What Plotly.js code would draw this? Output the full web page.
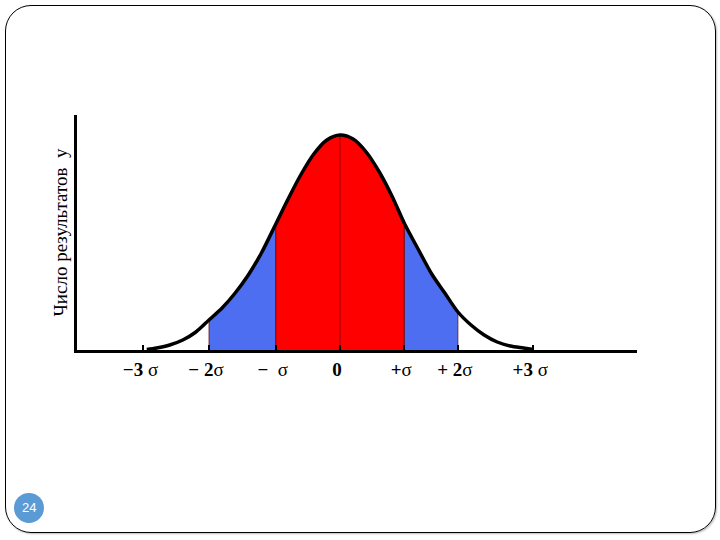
<!DOCTYPE html>
<html>
<head>
<meta charset="utf-8">
<script src="https://cdn.plot.ly/plotly-3.0.1.min.js"></script>
<style>
  html, body { margin: 0; padding: 0; background: #ffffff; }
  #slide { position: absolute; left: 5px; top: 5px; width: 709px; height: 526px;
           border: 1.5px solid #000; border-radius: 26px; box-shadow: 1px 1px 2px #bbb; }
  #chart { position: absolute; left: 0; top: 0; width: 720px; height: 540px; }
</style>
</head>
<body>
<div id="slide"></div>
<div id="chart"></div>
<script>
// Curve (x in sigma units, y in arbitrary height units)
var curveX = [-2.95, -2.8, -2.6, -2.4, -2.2, -2.0, -1.8, -1.6, -1.4, -1.2, -0.98, -0.8, -0.6, -0.4, -0.2, 0,
              0.2, 0.4, 0.6, 0.8, 0.98, 1.2, 1.4, 1.6, 1.8, 2.0, 2.2, 2.4, 2.6, 2.8, 2.95];
var curveY = [0.5, 2, 5, 10, 18, 30, 42, 57, 75, 97, 126, 150, 175, 196, 210, 215,
              211, 198, 178, 153, 127, 100, 76, 57, 38, 25, 15, 8, 4, 2, 0.5];

// Band boundaries (sigma units)
var blueBands = [[-2.0, -0.98], [0.98, 1.8]];
var redBand = [-0.98, 0.98];

// Axis tick labels
var tickVals = [-3, -2, -0.98, 0, 0.98, 1.8, 2.95];
var tickText = ['<b>−3</b> σ', '<b>− 2</b>σ', '<b>−</b>  σ', '<b>0</b>', '<b>+</b>σ', '<b>+ 2</b>σ', '<b>+3</b> σ'];

var yTitle = 'Число результатов  у';
var pageNumber = '24';

function band(a, b, color) {
  var xs = [a], ys = [0];
  for (var i = 0; i < curveX.length; i++) {
    if (curveX[i] >= a - 1e-9 && curveX[i] <= b + 1e-9) { xs.push(curveX[i]); ys.push(curveY[i]); }
  }
  xs.push(b); ys.push(0);
  return { x: xs, y: ys, type: 'scatter', mode: 'lines', fill: 'toself', fillcolor: color,
           line: { color: 'rgba(90,0,0,0.7)', width: 1, shape: 'linear' }, hoverinfo: 'skip', showlegend: false };
}

var traces = [];
blueBands.forEach(function (bd) { traces.push(band(bd[0], bd[1], 'rgb(78,110,242)')); });
traces.push(band(redBand[0], redBand[1], 'rgb(255,0,0)'));
// center line at 0
traces.push({ x: [0, 0], y: [0, curveY[curveX.indexOf(0)]], type: 'scatter', mode: 'lines',
              line: { color: 'rgb(150,0,0)', width: 1 }, hoverinfo: 'skip', showlegend: false });
// main curve
traces.push({ x: curveX, y: curveY, type: 'scatter', mode: 'lines',
              line: { color: '#000', width: 3.5, shape: 'spline', smoothing: 0.8 }, showlegend: false });

var layout = {
  width: 720, height: 540,
  margin: { l: 77, r: 83, t: 115, b: 190 },
  paper_bgcolor: 'rgba(0,0,0,0)', plot_bgcolor: 'rgba(0,0,0,0)',
  showlegend: false,
  xaxis: {
    range: [-4.015, 4.534], showgrid: false, zeroline: false,
    showline: true, linecolor: '#000', linewidth: 3,
    ticks: 'inside', ticklen: 5, tickwidth: 2, tickcolor: '#000',
    tickvals: tickVals, ticktext: tickText, ticklabelshift: -3,
    tickfont: { family: 'Liberation Serif', size: 19, color: '#000' }
  },
  yaxis: {
    range: [0, 235], showgrid: false, zeroline: false,
    showline: true, linecolor: '#000', linewidth: 3,
    showticklabels: false, ticks: '',
    title: { text: yTitle, font: { family: 'Liberation Serif', size: 19, color: '#000' }, standoff: 2 }
  },
  shapes: [
    { type: 'circle', xref: 'paper', yref: 'paper',
      x0: -0.1125, x1: -0.059, y0: -0.736, y1: -0.608,
      fillcolor: 'rgb(91,155,213)', line: { width: 0 } }
  ],
  annotations: [
    { xref: 'paper', yref: 'paper', x: -0.0857, y: -0.672, text: pageNumber, showarrow: false,
      font: { family: 'Liberation Sans', size: 13, color: '#fff' }, xanchor: 'center', yanchor: 'middle' }
  ]
};

Plotly.newPlot('chart', traces, layout, { staticPlot: true, displayModeBar: false });
</script>
</body>
</html>
